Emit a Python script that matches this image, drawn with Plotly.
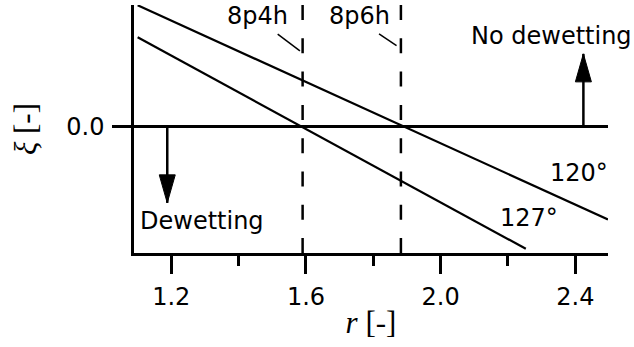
import plotly.graph_objects as go

# ---- data ----
r_120 = [1.100, 2.497]
xi_120 = [0.962, -0.735]
r_127 = [1.100, 2.253]
xi_127 = [0.709, -0.967]

sample_r = [1.590, 1.882]          # vertical dashed markers
sample_names = ["8p4h", "8p6h"]
sample_label_r = [1.455, 1.759]
sample_label_xi = [0.877, 0.877]
leader_r0 = [1.516, 1.817]
leader_r1 = [1.582, 1.869]
leader_xi0 = [0.733, 0.735]
leader_xi1 = [0.601, 0.643]

angle_labels = ["120°", "127°"]
angle_label_r = [2.411, 2.262]
angle_label_xi = [-0.365, -0.72]

arrow_r = [2.424, 1.188]
arrow_tip_xi = [0.577, -0.603]
arrow_texts = ["No dewetting", "Dewetting"]
arrow_text_r = [2.330, 1.291]
arrow_text_xi = [0.719, -0.745]

x_ticks = [1.2, 1.6, 2.0, 2.4]
x_tick_text = ["1.2", "1.6", "2.0", "2.4"]
x_minor = [1.4, 1.8, 2.2]
y_ticks = [0.0]
y_tick_text = ["0.0"]
x_range = [1.0892, 2.4971]
y_range = [-1.0, 0.964]

SANS = "DejaVu Sans"
SERIF = "Liberation Serif"
BLACK = "black"

fig = go.Figure()
for rr, xx in [(r_120, xi_120), (r_127, xi_127)]:
    fig.add_trace(go.Scatter(x=rr, y=xx, mode="lines",
                             line=dict(color=BLACK, width=2.2), showlegend=False,
                             hoverinfo="skip"))

shapes = []
for rv in sample_r:
    shapes.append(dict(type="line", xref="x", yref="paper", x0=rv, x1=rv, y0=1, y1=0,
                       line=dict(color=BLACK, width=2.5, dash="15px,18.3px")))
for a, b, c, d in zip(leader_r0, leader_r1, leader_xi0, leader_xi1):
    shapes.append(dict(type="line", xref="x", yref="y", x0=a, x1=b, y0=c, y1=d,
                       line=dict(color=BLACK, width=1.5)))
for rv, tip in zip(arrow_r, arrow_tip_xi):
    shapes.append(dict(type="line", xref="x", yref="y", x0=rv, x1=rv, y0=0, y1=tip,
                       line=dict(color=BLACK, width=2.5)))
    s = 1 if tip > 0 else -1
    shapes.append(dict(type="path", xref="x", yref="y", xsizemode="pixel", ysizemode="pixel",
                       xanchor=rv, yanchor=tip,
                       path=f"M0,0 L-8,{-28*s} L8,{-28*s} Z",
                       fillcolor=BLACK, line=dict(color=BLACK, width=1)))

annotations = []
for t, x, y in zip(sample_names, sample_label_r, sample_label_xi):
    annotations.append(dict(text=t, x=x, y=y, xref="x", yref="y", showarrow=False,
                            font=dict(family=SANS, size=24, color=BLACK)))
for t, x, y in zip(angle_labels, angle_label_r, angle_label_xi):
    annotations.append(dict(text=t, x=x, y=y, xref="x", yref="y", showarrow=False,
                            font=dict(family=SANS, size=24, color=BLACK)))
for t, x, y in zip(arrow_texts, arrow_text_r, arrow_text_xi):
    annotations.append(dict(text=t, x=x, y=y, xref="x", yref="y", showarrow=False,
                            font=dict(family=SANS, size=24, color=BLACK)))

fig.update_layout(
    width=634, height=347,
    margin=dict(l=134, r=26, t=5, b=93.5, pad=0),
    paper_bgcolor="white", plot_bgcolor="white",
    shapes=shapes, annotations=annotations,
    xaxis=dict(range=x_range, showgrid=False, zeroline=False, showline=True,
               linecolor=BLACK, linewidth=2.5, ticks="outside", ticklen=18,
               tickwidth=2.5, tickcolor=BLACK, tickvals=x_ticks, ticktext=x_tick_text,
               ticklabelstandoff=2,
               tickfont=dict(family=SANS, size=24, color=BLACK),
               minor=dict(tickvals=x_minor, ticks="outside", ticklen=10,
                          tickwidth=2.5, tickcolor=BLACK, showgrid=False),
               title=dict(text="<i>r</i> [-]", font=dict(family=SERIF, size=31, color=BLACK),
                          standoff=2)),
    yaxis=dict(range=y_range, showgrid=False, zeroline=True, zerolinecolor=BLACK,
               zerolinewidth=2.5, showline=True, linecolor=BLACK, linewidth=2.5,
               ticks="outside", ticklen=19, tickwidth=2.5, tickcolor=BLACK,
               tickvals=y_ticks, ticktext=y_tick_text, ticklabelstandoff=3,
               tickfont=dict(family=SANS, size=24, color=BLACK),
               title=dict(text="<i>ξ</i> [-]", font=dict(family=SERIF, size=31, color=BLACK),
                          standoff=21)),
)

fig.write_html("out.html")
